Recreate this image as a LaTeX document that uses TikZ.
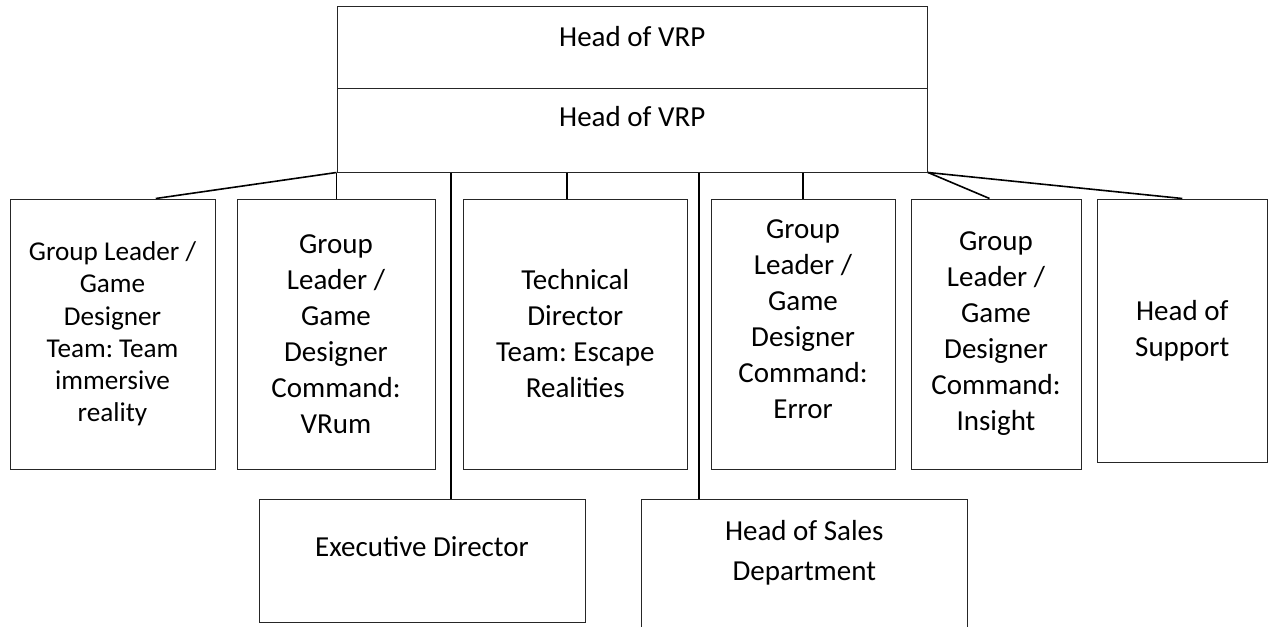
\documentclass[tikz,border=0pt]{standalone}
\usepackage{fontspec}
\setmainfont{Carlito}
\frenchspacing
\usetikzlibrary{calc}

\tikzset{
  box/.style={draw=black!85, line width=0.5pt, rectangle, align=center, inner sep=0pt,
    font=\fontsize{14.5}{18}\selectfont},
  boxsize/.style 2 args={minimum width=#1*0.5pt, minimum height=#2*0.5pt},
  txt/.style={align=center, inner sep=0pt, font=\fontsize{14.5}{18}\selectfont},
  link/.style={draw, line width=0.8pt},
}

\begin{document}
\begin{tikzpicture}[x=0.5pt,y=-0.5pt]
  \clip (0,0) rectangle (1272,626);

  % head of the chart, two rows
  \node[box, boxsize={590.5}{82}] (vrpA) at (632.25,48)
    [label={[txt, yshift=5.5pt]center:Head of VRP}] {};
  \node[box, boxsize={590.5}{83}] (vrpB) at (632.25,130.5)
    [label={[txt, yshift=6.75pt]center:Head of VRP}] {};

  % first row of units
  \node[box, boxsize={205}{270}, font=\fontsize{13.6}{16.1}\selectfont] (gl1) at (112.5,334)
    {Group Leader /\\Game\\Designer\\Team: Team\\immersive\\reality};
  \node[box, boxsize={198}{270}] (gl2) at (336,334)
    {Group\\Leader /\\Game\\Designer\\Command:\\VRum};
  \node[box, boxsize={224.5}{270}] (tech) at (575.25,334)
    {Technical\\Director\\Team: Escape\\Realities};
  \node[box, boxsize={184}{270}] (glErr) at (803,334)
    [label={[txt, yshift=7.25pt]center:{Group\\Leader /\\Game\\Designer\\Command:\\Error}}] {};
  \node[box, boxsize={170}{270}] (glIns) at (996,334)
    {Group\\Leader /\\Game\\Designer\\Command:\\Insight};
  \node[box, boxsize={170.5}{263}] (support) at (1182.25,330.5)
    {Head of\\Support};

  % second row
  \node[box, boxsize={326}{123}] (exec) at (422,560.5)
    [label={[txt, yshift=6.75pt]center:Executive Director}] {};
  \node[box, boxsize={325.5}{141}] (sales) at (804.25,569.5)
    [label={[txt, font=\fontsize{14.5}{20}\selectfont, yshift=8.25pt]center:{Head of Sales\\Department}}] {};

  % drop points on the boxes
  \coordinate (gl1Top) at ($(gl1.north west)!.71!(gl1.north east)$);
  \coordinate (execTop) at ($(exec.north west)!.589!(exec.north east)$);
  \coordinate (techTop) at ($(tech.north west)!.463!(tech.north east)$);
  \coordinate (salesTop) at ($(sales.north west)!.177!(sales.north east)$);
  \coordinate (glInsTop) at ($(glIns.north west)!.462!(glIns.north east)$);

  % connectors
  \draw[link] (vrpB.south west) -- (gl1Top);
  \draw[link] (vrpB.south west) -- (vrpB.south west |- gl2.north);
  \draw[link] (execTop |- vrpB.south) -- (execTop);
  \draw[link] (techTop |- vrpB.south) -- (techTop);
  \draw[link] (salesTop |- vrpB.south) -- (salesTop);
  \draw[link] (glErr.north |- vrpB.south) -- (glErr.north);
  \draw[link] (vrpB.south east) -- (glInsTop);
  \draw[link] (vrpB.south east) -- (support.north);
\end{tikzpicture}
\end{document}
